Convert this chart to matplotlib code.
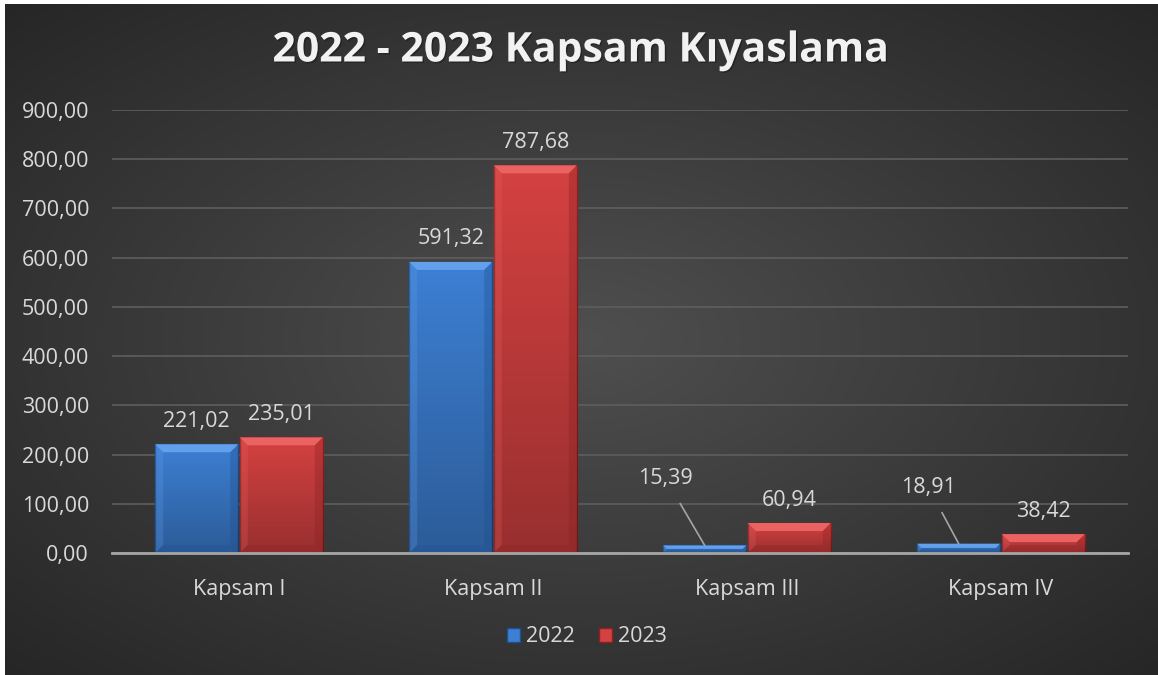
import numpy as np
import matplotlib
matplotlib.use("Agg")
import matplotlib.pyplot as plt
import matplotlib.patheffects as pe
from matplotlib.patches import Polygon, Rectangle

categories = ["Kapsam I", "Kapsam II", "Kapsam III", "Kapsam IV"]
years = ["2022", "2023"]
values_2022 = [221.02, 591.32, 15.39, 18.91]
values_2023 = [235.01, 787.68, 60.94, 38.42]
yticks = [0, 100, 200, 300, 400, 500, 600, 700, 800, 900]

# label positions for the small bars (offset x in category units, y in data)
leader_labels = {2: (-0.155, 152), 3: (-0.12, 134)}

plt.rcParams['font.family'] = ['Open Sans', 'DejaVu Sans']
txt = '#d9d9d9'
fs = 15.5

W, H = 1158, 675
fig = plt.figure(figsize=(W / 100, H / 100), dpi=100)
fig.patch.set_facecolor('white')

# dark radial background
bg = fig.add_axes([5 / W, 0, 1 - 5 / W, 1 - 4 / H])
yy, xx = np.mgrid[0:1:300j, 0:1:500j]
r = np.sqrt(((xx - 0.5) / 0.75) ** 2 + ((yy - 0.5) / 0.75) ** 2)
shade = 0.31 - 0.17 * np.clip(r, 0, 1)
bg.imshow(np.dstack([shade] * 3), extent=[0, 1, 0, 1], aspect='auto')
bg.axis('off')

ax = fig.add_axes([112 / W, 1 - 553 / H, (1128 - 112) / W, (553 - 110) / H])
ax.patch.set_alpha(0)
x = np.arange(len(categories))
bw = 0.327
ax.set_xlim(-0.5, len(categories) - 0.5)
ax.set_ylim(0, 900)

colors = {'2022': ('#3d7fd3', '#63a0ec', '#1f4f8f'),
          '2023': ('#d44141', '#ea6262', '#8a2222')}

def bevel(bar, light, dark):
    # small bevel on the edges, drawn in pixel space
    trans = ax.transData
    x0, y0 = bar.get_x(), bar.get_y()
    x1, y1 = x0 + bar.get_width(), y0 + bar.get_height()
    (px0, py0), (px1, py1) = trans.transform([(x0, y0), (x1, y1)])
    d = min(8, (py1 - py0) * 0.45)
    inv = trans.inverted()
    # darker lower part
    grad = np.zeros((60, 1, 4))
    grad[:, 0, 3] = np.linspace(0.0, 0.28, 60)
    im = ax.imshow(grad, extent=[x0, x1, y0, y1], aspect='auto', zorder=2.5,
                   origin='upper', interpolation='bilinear')
    im.set_clip_path(bar)
    top = inv.transform([(px0, py1), (px1, py1), (px1 - d, py1 - d), (px0 + d, py1 - d)])
    rside = inv.transform([(px1, py1), (px1, py0), (px1 - d, py0 + d), (px1 - d, py1 - d)])
    lside = inv.transform([(px0, py1), (px0, py0), (px0 + d, py0 + d), (px0 + d, py1 - d)])
    bot = inv.transform([(px0, py0), (px1, py0), (px1 - d, py0 + d), (px0 + d, py0 + d)])
    ax.add_patch(Polygon(top, closed=True, facecolor=light, edgecolor='none', zorder=3))
    ax.add_patch(Polygon(rside, closed=True, facecolor=dark, edgecolor='none', alpha=0.35, zorder=3))
    ax.add_patch(Polygon(lside, closed=True, facecolor=light, edgecolor='none', alpha=0.25, zorder=3))
    ax.add_patch(Polygon(bot, closed=True, facecolor=dark, edgecolor='none', alpha=0.3, zorder=3))

for i, (yr, vals) in enumerate([('2022', values_2022), ('2023', values_2023)]):
    face, light, dark = colors[yr]
    off = (i - 0.5) * (bw + 0.006)
    bars = ax.bar(x + off, vals, bw, color=face, edgecolor=dark, linewidth=1.0,
                  zorder=2, label=yr)
    for j, b in enumerate(bars):
        bevel(b, light, dark)
        lbl = f"{vals[j]:.2f}".replace('.', ',')
        if yr == '2022' and j in leader_labels:
            dx, ly = leader_labels[j]
            ax.annotate(lbl, xy=(x[j] + off, vals[j]), xytext=(x[j] + off + dx, ly),
                        ha='center', va='center', color=txt, fontsize=fs,
                        arrowprops=dict(arrowstyle='-', color='#a6a6a6', lw=1.2,
                                        shrinkA=10, shrinkB=0), zorder=5)
        else:
            ax.annotate(lbl, (x[j] + off, vals[j]), xytext=(0, 9),
                        textcoords='offset points', ha='center', va='bottom',
                        color=txt, fontsize=fs, zorder=5)

ax.set_yticks(yticks)
ax.set_yticklabels([f"{v:.2f}".replace('.', ',') for v in yticks])
ax.set_xticks(x)
ax.set_xticklabels(categories)
ax.tick_params(axis='both', length=0, colors=txt, labelsize=fs)
ax.tick_params(axis='x', pad=19)
ax.tick_params(axis='y', pad=16.5)
ax.grid(axis='y', color='#5e5e5e', linewidth=1.2, zorder=0)
ax.set_axisbelow(True)
for s in ['top', 'right', 'left']:
    ax.spines[s].set_visible(False)
ax.spines['bottom'].set_color('#a6a6a6')
ax.spines['bottom'].set_linewidth(2)
ax.spines['bottom'].set_zorder(4)

fig.text(0.5 + 2.5 / W, 1 - 51 / H, "2022 - 2023 Kapsam Kıyaslama", ha='center', va='center',
         fontsize=29.5, fontweight='bold', color='#f2f2f2',
         path_effects=[pe.withSimplePatchShadow(offset=(1, -1), shadow_rgbFace='black', alpha=0.3)])

handles = [Rectangle((0, 0), 1, 1, facecolor=colors[y][0], edgecolor=colors[y][2]) for y in years]
leg = fig.legend(handles, years, loc='center', bbox_to_anchor=(0.5 + 8 / W, 1 - 637 / H), ncol=2,
                 frameon=False, fontsize=fs, handlelength=0.6, handleheight=0.6,
                 handletextpad=0.3, columnspacing=1.1, labelcolor=txt)

fig.savefig('out.png', dpi=100)
